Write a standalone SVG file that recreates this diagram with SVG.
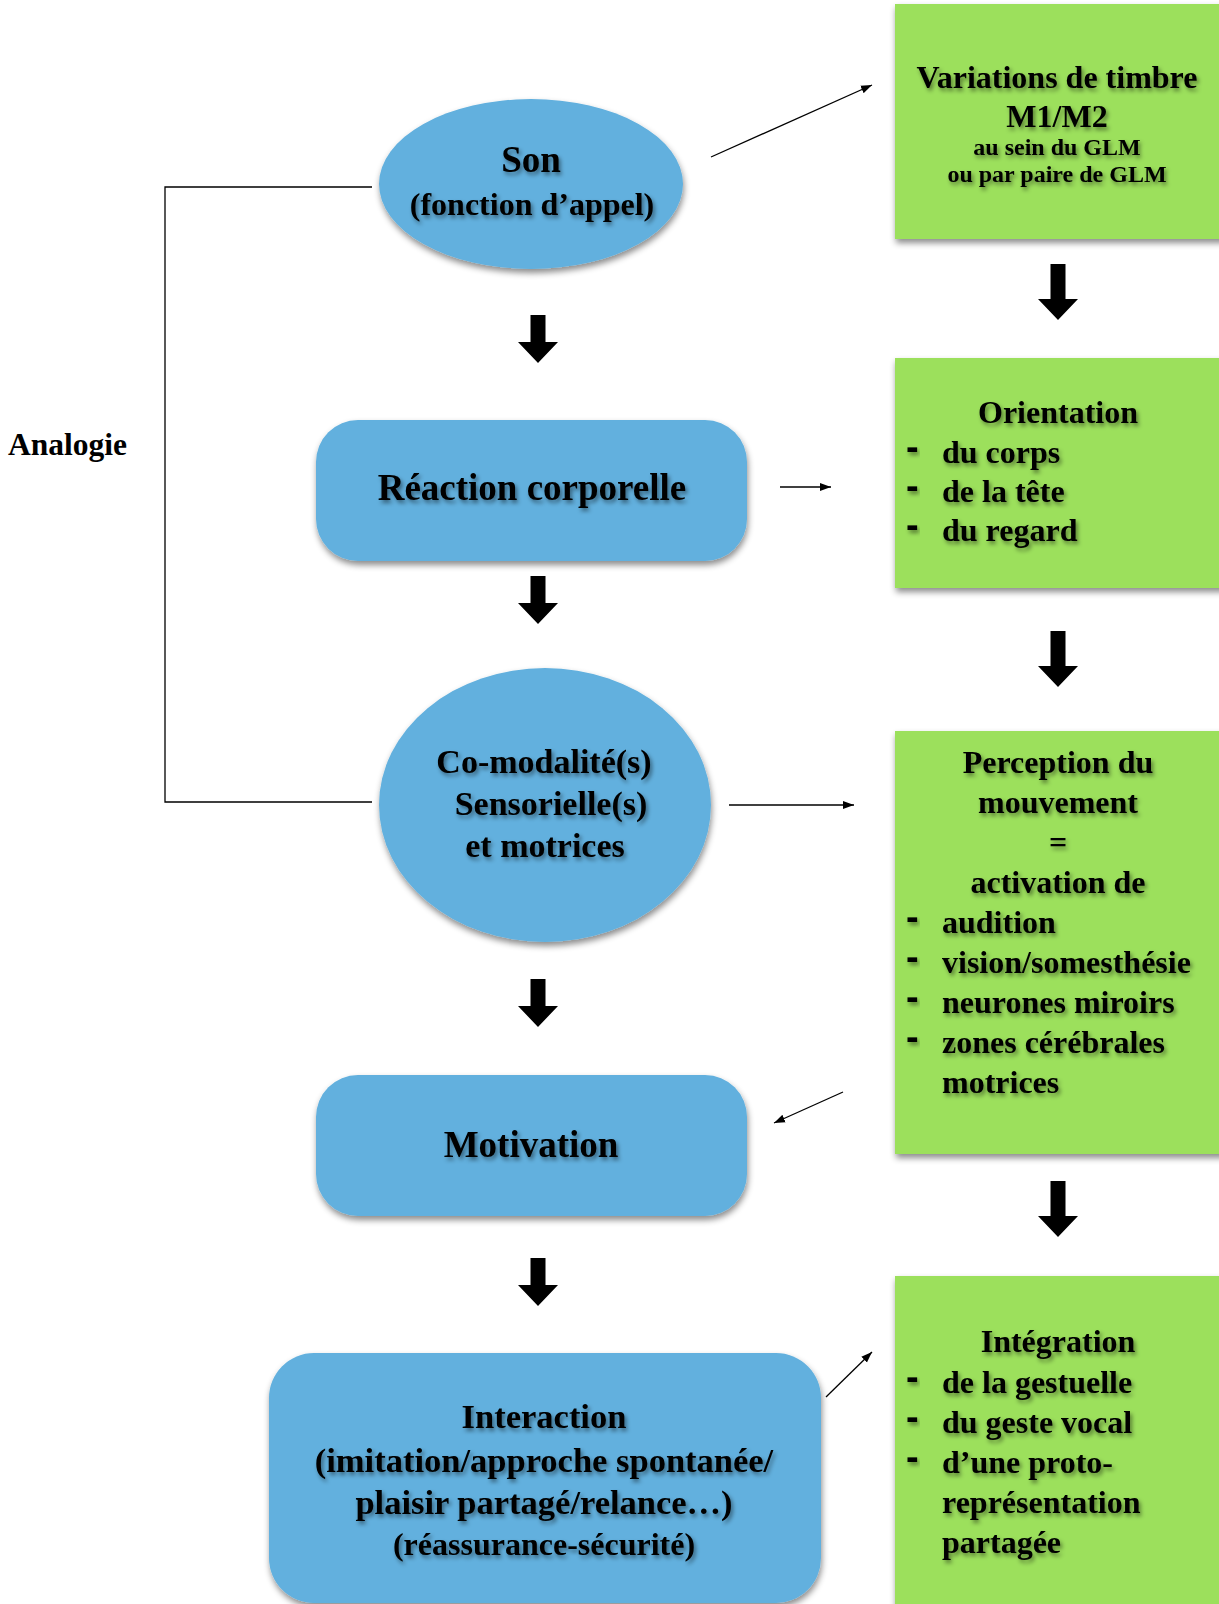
<svg xmlns="http://www.w3.org/2000/svg" width="1219" height="1604" viewBox="0 0 1219 1604">
<defs>
<style>
.t{font-family:"Liberation Serif","Times New Roman",serif;font-weight:bold;fill:#000}
.d{font-family:"Liberation Sans",Arial,sans-serif;font-weight:bold;fill:#000;font-size:38px}
.ts{filter:url(#tshadow)}
.c{text-anchor:middle}
.blue{fill:#62B0DE;filter:url(#shadow)}
.green{fill:#9CE05B;filter:url(#shadow)}
.conn{stroke:#000;stroke-width:1.3;fill:none}
.blk{fill:#000}
</style>
<filter id="shadow" x="-10%" y="-10%" width="125%" height="130%">
<feDropShadow dx="1" dy="4" stdDeviation="3" flood-color="#000" flood-opacity="0.45"/>
</filter>
<filter id="tshadow" x="-10%" y="-20%" width="120%" height="150%">
<feDropShadow dx="2" dy="3" stdDeviation="2" flood-color="#000" flood-opacity="0.45"/>
</filter>
<marker id="ah" markerUnits="userSpaceOnUse" markerWidth="12" markerHeight="10" refX="11" refY="5" orient="auto">
<path d="M0,1 L11,5 L0,9 z" fill="#000"/>
</marker>
<path id="bigS" d="M-7.5,0 h15 v27 h12.5 l-20,21 l-20,-21 h12.5 z"/>
<path id="bigL" d="M-7.5,0 h15 v35 h12.5 l-20,21 l-20,-21 h12.5 z"/>
</defs>
<rect width="1219" height="1604" fill="#fff"/>

<g id="connectors">
<polyline class="conn" points="372,187 165,187 165,802 372,802"/>
<line class="conn" x1="711" y1="157" x2="872" y2="85" marker-end="url(#ah)"/>
<line class="conn" x1="780" y1="487" x2="831" y2="487" marker-end="url(#ah)"/>
<line class="conn" x1="729" y1="805" x2="854" y2="805" marker-end="url(#ah)"/>
<line class="conn" x1="843" y1="1092" x2="774" y2="1123" marker-end="url(#ah)"/>
<line class="conn" x1="826" y1="1397" x2="872" y2="1352" marker-end="url(#ah)"/>
<use href="#bigL" class="blk" x="1058" y="264"/>
<use href="#bigS" class="blk" x="538" y="315"/>
<use href="#bigS" class="blk" x="538" y="576"/>
<use href="#bigL" class="blk" x="1058" y="631"/>
<use href="#bigS" class="blk" x="538" y="979"/>
<use href="#bigL" class="blk" x="1058" y="1181"/>
<use href="#bigS" class="blk" x="538" y="1258"/>
</g>

<g id="analogie">
<text class="t" x="8" y="455" font-size="31.5">Analogie</text>
</g>

<g id="son">
<ellipse class="blue" cx="531" cy="184" rx="152" ry="85"/>
<text class="t ts c" x="531" y="172" font-size="37">Son</text>
<text class="t ts c" x="532" y="215" font-size="32">(fonction d’appel)</text>
</g>

<g id="variations">
<rect class="green" x="895" y="4" width="330" height="235"/>
<text class="t ts c" x="1057" y="88" font-size="32">Variations de timbre</text>
<text class="t ts c" x="1057" y="127" font-size="32">M1/M2</text>
<text class="t ts c" x="1057" y="155" font-size="24">au sein du GLM</text>
<text class="t ts c" x="1057" y="182" font-size="24">ou par paire de GLM</text>
</g>

<g id="reaction">
<rect class="blue" x="316" y="420" width="431" height="141" rx="42"/>
<text class="t ts c" x="532" y="500" font-size="37">Réaction corporelle</text>
</g>

<g id="orientation">
<rect class="green" x="895" y="358" width="330" height="230"/>
<text class="t ts c" x="1058" y="423" font-size="32">Orientation</text>
<text class="d ts"><tspan x="906" y="460">-</tspan><tspan x="906" y="499">-</tspan><tspan x="906" y="538">-</tspan></text>
<text class="t ts" font-size="32"><tspan x="942" y="463">du corps</tspan><tspan x="942" y="502">de la tête</tspan><tspan x="942" y="541">du regard</tspan></text>
</g>

<g id="comodalite">
<ellipse class="blue" cx="545" cy="805" rx="166" ry="137"/>
<text class="t ts c" font-size="34"><tspan x="544" y="773">Co-modalité(s)</tspan><tspan x="551" y="815">Sensorielle(s)</tspan><tspan x="545" y="857">et motrices</tspan></text>
</g>

<g id="perception">
<rect class="green" x="895" y="731" width="330" height="423"/>
<text class="t ts c" font-size="32"><tspan x="1058" y="773">Perception du</tspan><tspan x="1058" y="813">mouvement</tspan><tspan x="1058" y="853">=</tspan><tspan x="1058" y="893">activation de</tspan></text>
<text class="d ts"><tspan x="906" y="930">-</tspan><tspan x="906" y="970">-</tspan><tspan x="906" y="1010">-</tspan><tspan x="906" y="1050">-</tspan></text>
<text class="t ts" font-size="32"><tspan x="942" y="933">audition</tspan><tspan x="942" y="973">vision/somesthésie</tspan><tspan x="942" y="1013">neurones miroirs</tspan><tspan x="942" y="1053">zones cérébrales</tspan><tspan x="942" y="1093">motrices</tspan></text>
</g>

<g id="motivation">
<rect class="blue" x="316" y="1075" width="431" height="141" rx="42"/>
<text class="t ts c" x="531" y="1157" font-size="37">Motivation</text>
</g>

<g id="interaction">
<rect class="blue" x="269" y="1353" width="552" height="250" rx="45"/>
<text class="t ts c" font-size="34.5"><tspan x="544" y="1428">Interaction</tspan><tspan x="544" y="1472">(imitation/approche spontanée/</tspan><tspan x="544" y="1514">plaisir partagé/relance…)</tspan></text>
<text class="t ts c" x="544" y="1555" font-size="32">(réassurance-sécurité)</text>
</g>

<g id="integration">
<rect class="green" x="895" y="1276" width="330" height="340"/>
<text class="t ts c" x="1058" y="1352" font-size="32">Intégration</text>
<text class="d ts"><tspan x="906" y="1390">-</tspan><tspan x="906" y="1430">-</tspan><tspan x="906" y="1470">-</tspan></text>
<text class="t ts" font-size="32"><tspan x="942" y="1393">de la gestuelle</tspan><tspan x="942" y="1433">du geste vocal</tspan><tspan x="942" y="1473">d’une proto-</tspan><tspan x="942" y="1513">représentation</tspan><tspan x="942" y="1553">partagée</tspan></text>
</g>
</svg>
